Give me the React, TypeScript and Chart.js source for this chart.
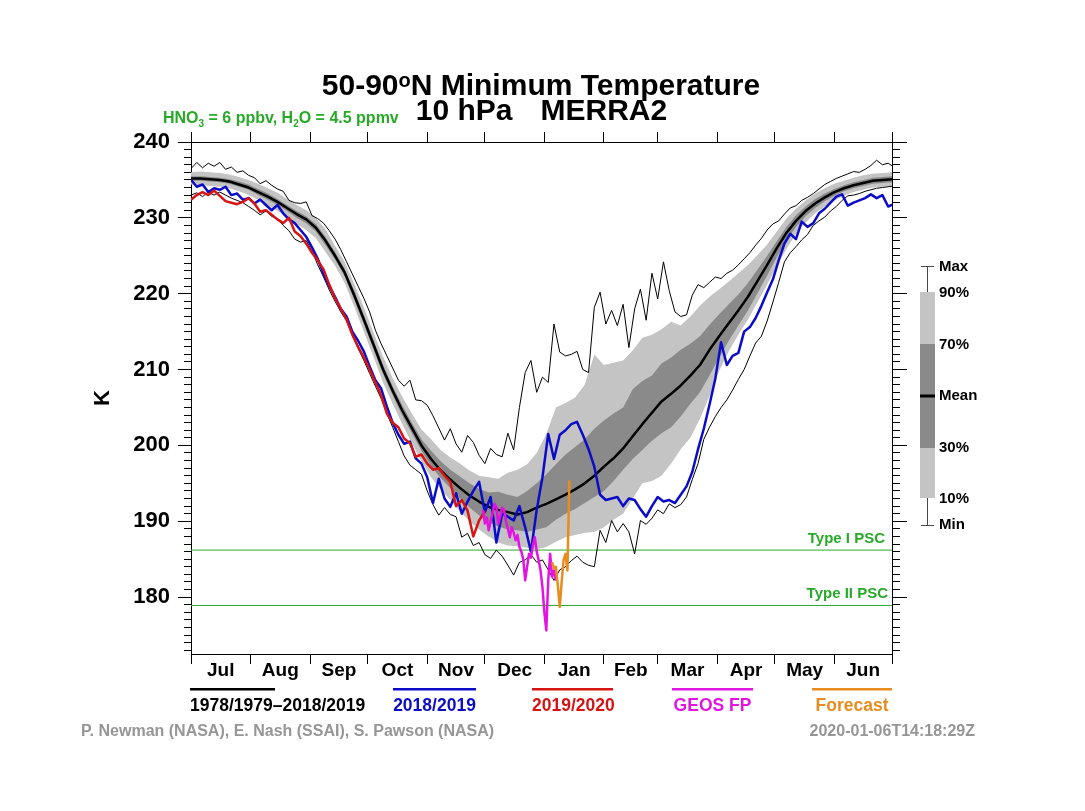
import React, { useEffect, useRef } from "react";
import { Chart, registerables } from "chart.js";

Chart.register(...registerables);

const FONT = "'Liberation Sans', Arial, Helvetica, sans-serif";
const W = 1085;
const H = 811;

// ---- axes / labels ----
const monthLabels = ["Jul", "Aug", "Sep", "Oct", "Nov", "Dec", "Jan", "Feb", "Mar", "Apr", "May", "Jun"];
const monthStarts = [0, 31, 62, 92, 123, 153, 184, 215, 243, 274, 304, 335, 365];
const yMajorTicks = [180, 190, 200, 210, 220, 230, 240];
const Y_MIN = 172.5;
const Y_MAX = 240;
const typeIPSC = 186.2;
const typeIIPSC = 178.9;

// ---- climatology 1978/1979-2018/2019, every 5 days from 1 Jul ----
const BAND_STEP = 5;
const meanVals = [
  235.2, 235.2, 235.1, 235.0, 234.8, 234.4, 234.0, 233.4, 232.8, 232.1,
  231.3, 230.5, 229.8, 228.7, 227.0, 225.0, 222.8, 219.8, 216.6, 213.3,
  210.0, 207.2, 204.6, 202.3, 200.0, 198.2, 196.7, 195.5, 194.4, 193.4,
  192.6, 191.9, 191.5, 191.2, 190.9, 191.2, 191.8, 192.3, 192.9, 193.5,
  194.2, 195.0, 196.0, 197.2, 198.3, 199.6, 201.2, 202.8, 204.3, 205.8,
  206.8, 207.9, 209.2, 210.6, 212.6, 214.4, 216.1, 217.8, 219.6, 221.7,
  223.8, 226.0, 228.0, 229.6, 230.9, 231.9, 232.7, 233.4, 233.9, 234.3,
  234.6, 234.9, 235.0, 235.1,
];
const p90Vals = [
  236.0, 236.1, 236.0, 235.9, 235.7, 235.4, 235.0, 234.5, 233.9, 233.3,
  232.5, 231.7, 231.0, 230.0, 228.5, 226.3, 224.2, 221.3, 218.2, 214.9,
  211.7, 208.9, 206.4, 204.2, 202.1, 200.8, 199.4, 198.4, 197.6, 196.7,
  196.0, 195.8, 195.6, 196.4, 196.8, 197.5, 199.0, 201.5, 205.0, 205.6,
  206.3, 208.0, 212.0, 210.6, 210.9, 211.2, 212.5, 214.2, 214.6, 215.3,
  216.3, 215.8, 217.0, 218.4, 219.6, 220.6, 221.6, 222.7, 223.8, 225.1,
  226.5, 228.2, 229.9, 231.2, 232.3, 233.2, 233.9, 234.5, 234.9, 235.3,
  235.6, 235.8, 235.9, 236.0,
];
const p70Vals = [
  235.5, 235.5, 235.4, 235.3, 235.1, 234.8, 234.4, 233.8, 233.2, 232.5,
  231.7, 230.9, 230.2, 229.2, 227.5, 225.5, 223.3, 220.4, 217.2, 213.9,
  210.6, 207.8, 205.3, 203.0, 200.8, 199.3, 197.9, 196.8, 195.9, 195.0,
  194.3, 193.8, 193.9, 193.5, 193.2, 194.0, 195.0, 196.2, 197.5, 198.8,
  199.8, 200.8, 202.2, 203.3, 204.2, 205.0, 207.4, 208.5, 209.2, 210.8,
  211.6, 212.6, 213.4, 214.4, 215.9, 217.3, 218.6, 219.9, 221.4, 223.2,
  225.0, 226.9, 228.8, 230.3, 231.5, 232.5, 233.2, 233.8, 234.3, 234.7,
  235.0, 235.3, 235.4, 235.5,
];
const p30Vals = [
  234.9, 234.9, 234.8, 234.7, 234.5, 234.1, 233.7, 233.0, 232.4, 231.7,
  230.9, 230.0, 229.3, 228.2, 226.4, 224.5, 222.3, 219.2, 216.0, 212.7,
  209.4, 206.6, 203.9, 201.6, 199.3, 197.3, 195.7, 194.4, 193.0, 191.8,
  190.8, 189.9, 189.3, 188.9, 188.8, 188.6, 188.9, 189.2, 190.2, 191.0,
  191.6, 192.4, 193.2, 194.0, 195.3, 196.8, 198.2, 199.4, 200.6, 201.6,
  202.4, 203.8, 205.5, 207.0, 209.2, 211.6, 213.8, 215.8, 217.8, 220.1,
  222.4, 224.8, 227.0, 228.8, 230.2, 231.3, 232.2, 232.9, 233.5, 233.9,
  234.2, 234.5, 234.6, 234.7,
];
const p10Vals = [
  234.4, 234.3, 234.2, 234.1, 233.9, 233.5, 233.0, 232.4, 231.7, 230.9,
  230.1, 229.2, 228.4, 227.3, 225.5, 223.7, 221.4, 218.3, 215.0, 211.7,
  208.3, 205.5, 202.8, 200.3, 197.9, 195.8, 194.2, 192.8, 191.3, 190.0,
  188.9, 188.0, 187.2, 186.8, 186.7, 186.5, 186.3, 186.6, 187.3, 187.9,
  188.2, 188.5, 188.6, 189.2, 190.2, 191.0, 193.0, 195.0, 195.3, 196.0,
  197.6, 199.5, 201.0, 203.5, 206.5, 209.8, 212.4, 214.6, 216.6, 218.9,
  221.2, 223.6, 225.9, 227.9, 229.4, 230.6, 231.5, 232.3, 232.9, 233.4,
  233.7, 234.0, 234.1, 234.2,
];

// ---- daily-ish lines, every 3 days from 1 Jul ----
const LINE_STEP = 3;
const maxVals = [
  236.5, 237.3, 236.6, 237.2, 236.8, 237.3, 236.4, 236.7, 236.0, 236.2,
  235.6, 235.3, 234.5, 234.9, 234.3, 233.8, 233.5, 232.3, 232.0, 231.9,
  232.1, 230.3, 229.9, 229.3, 228.3, 227.2, 225.8, 224.2, 222.6, 221.0,
  219.4, 217.6, 215.2, 213.4, 211.8, 210.2, 208.6, 207.8, 208.6, 206.0,
  205.9, 205.3, 203.9, 202.3, 200.7, 202.2, 200.2, 199.1, 201.3, 200.4,
  198.7, 197.6, 199.6, 198.8, 198.5, 201.6, 199.4, 205.0, 209.6, 211.2,
  207.0, 209.0, 208.3, 216.0, 212.3, 211.8, 212.0, 212.4, 210.0, 209.6,
  218.2, 220.2, 216.0, 217.8, 215.8, 218.6, 212.9, 218.0, 220.6, 216.5,
  222.7, 219.3, 224.2, 220.4, 217.6, 217.0, 217.2, 219.8, 221.2, 220.8,
  221.5, 222.2, 222.0, 222.7, 223.1, 223.8, 224.6, 225.4, 226.4, 227.3,
  228.4, 229.2, 229.6, 230.5, 231.3, 231.6, 232.3, 232.7, 233.2, 233.8,
  234.4, 234.8, 235.2, 235.5, 235.8, 236.1, 236.0, 236.4, 236.9, 237.6,
  237.0, 237.2, 236.7,
];
const minVals = [
  233.0, 233.3, 232.8, 233.4, 233.0, 233.4, 233.0, 232.6, 232.3, 232.0,
  231.5, 231.0, 230.4, 230.9, 230.2, 229.9, 229.0, 228.3, 227.2, 226.8,
  227.0, 225.6, 223.8, 222.2, 220.5, 219.0, 217.6, 216.4, 214.5, 212.8,
  211.2, 209.5, 207.8, 206.2, 204.2, 202.4, 200.5, 198.6, 197.4, 196.8,
  196.2, 194.0, 192.2, 190.8, 191.8, 190.9, 190.6, 187.9, 188.4, 186.8,
  187.2, 185.6, 185.1, 186.2, 185.4, 184.2, 182.9, 184.6, 184.9, 185.6,
  184.6, 184.9, 183.6, 182.2, 183.6, 184.0, 184.8, 185.4, 184.6, 184.2,
  184.0, 188.8, 187.2, 190.1, 188.6, 189.7, 188.6, 185.7, 190.1, 189.6,
  190.4, 191.5, 191.0, 192.3, 191.8, 192.2, 193.2, 195.5, 197.6, 200.8,
  202.4, 203.8, 205.0, 206.0, 207.3, 208.7, 210.0, 211.8, 213.5, 214.4,
  216.4, 218.9, 221.5, 224.2, 225.4, 226.2, 227.1, 227.8, 229.0, 229.6,
  230.1, 230.9, 231.5, 232.3, 232.9, 233.0, 233.2, 233.5, 233.7, 233.9,
  234.0, 234.1, 234.2,
];
const blue1819Vals = [
  235.0, 234.1, 234.4, 233.4, 233.9, 233.7, 234.1, 233.0, 233.2, 232.4,
  232.6, 231.9, 232.4, 231.7, 231.0, 231.7, 230.6, 229.8, 229.3, 228.4,
  227.5, 226.1, 224.6, 222.6, 221.0, 219.6, 218.0, 217.0, 215.0, 213.8,
  212.4, 210.4, 208.6, 207.5, 205.1, 203.0, 201.4, 200.2, 200.5, 198.3,
  197.6, 195.8, 192.4, 195.6, 193.0, 191.9, 193.7, 191.0, 192.6, 194.0,
  195.2, 191.2, 193.2, 187.2, 191.0, 190.6, 190.1, 192.0, 189.2, 186.0,
  191.5, 195.8, 201.5, 198.2, 201.4, 202.0, 202.8, 203.1, 201.4, 199.5,
  197.2, 193.5, 192.8, 193.0, 193.2, 192.0, 193.0, 192.8, 191.6, 190.6,
  192.0, 193.2, 192.6, 192.8, 192.4, 193.5, 194.6, 196.5, 199.5, 202.2,
  205.4, 208.8, 213.6, 210.6, 211.8, 212.2, 215.0, 215.6, 216.8, 218.4,
  220.2, 221.9, 224.4, 226.6, 227.9, 227.2, 229.5, 228.8, 229.3, 230.6,
  231.2, 232.0, 232.8, 233.1, 231.6, 232.0, 232.3, 232.6, 233.1, 232.6,
  233.0, 231.5, 231.8,
];
const red1920Vals = [
  232.4, 233.0, 233.4, 233.0, 233.6, 232.9, 232.2, 232.0, 231.8, 232.1,
  232.6, 231.9, 230.8, 231.0, 230.4, 229.8, 229.3, 230.0, 228.2, 227.6,
  226.6, 225.4, 224.4, 223.2, 221.2, 219.4, 218.0, 216.6, 214.6, 213.0,
  211.6, 210.0, 208.3, 206.6, 204.2, 203.0, 202.4, 200.9, 200.3, 198.5,
  198.8, 197.6, 196.8, 197.0, 196.0, 195.2, 192.0, 192.8, 191.4, 188.0,
  190.1, 191.3,
];

// ---- GEOS FP (daily, from day 152) and forecast (daily, from day 188) ----
const GEOS_START = 152;
const geosVals = [
  191.5, 189.7, 190.5, 188.8, 190.0, 191.0, 192.3, 191.9, 189.6, 190.6,
  191.8, 191.5, 190.0, 189.0, 187.9, 189.2, 188.5, 187.5, 188.2, 186.6,
  186.0, 185.0, 182.2, 184.0, 185.7, 185.2, 186.8, 187.9, 186.0, 184.9,
  183.5, 181.3, 178.0, 175.6, 182.2, 185.7, 182.7, 183.5, 182.2,
];
const FCST_START = 188;
const fcstVals = [184.6, 183.8, 184.0, 181.5, 178.7, 182.0, 184.9, 185.7, 183.5, 195.4];

// ---- colours ----
const LIGHT = "rgb(196,196,196)";
const DARK = "rgb(138,138,138)";
const BLUE = "rgb(12,12,200)";
const RED = "rgb(215,20,20)";
const MAGENTA = "rgb(225,20,225)";
const ORANGE = "rgb(232,140,30)";
const GREEN = "rgb(40,170,40)";
const GRAY = "rgb(150,150,150)";

function series(vals: number[], start: number, step: number) {
  return vals.map((v, i) => ({ x: start + i * step, y: v }));
}

function lineDs(label: string, data: any[], color: string, width: number, order: number, extra: any = {}) {
  return {
    label,
    data,
    borderColor: color,
    backgroundColor: color,
    borderWidth: width,
    pointRadius: 0,
    tension: 0,
    fill: false,
    order,
    ...extra,
  };
}

function drawRich(ctx: CanvasRenderingContext2D, x: number, y: number, parts: { t: string; f: string; dy: number }[]) {
  for (const p of parts) {
    ctx.font = p.f;
    ctx.fillText(p.t, x, y + p.dy);
    x += ctx.measureText(p.t).width;
  }
  return x;
}

const decorPlugin = {
  id: "decor",
  afterDraw(chart: any) {
    const ctx: CanvasRenderingContext2D = chart.ctx;
    const ys = chart.scales.y;
    const area = chart.chartArea;
    ctx.save();
    ctx.textBaseline = "alphabetic";
    ctx.textAlign = "left";

    // title line 1
    ctx.fillStyle = "#000";
    const big = `bold 30px ${FONT}`;
    const sup = `bold 20px ${FONT}`;
    const t1 = "50-90";
    const t3 = "N Minimum Temperature";
    ctx.font = big;
    const w1 = ctx.measureText(t1).width;
    const w3 = ctx.measureText(t3).width;
    ctx.font = sup;
    const w2 = ctx.measureText("o").width + 1;
    const cx = (area.left + area.right) / 2;
    drawRich(ctx, cx - (w1 + w2 + w3) / 2, 95, [
      { t: t1, f: big, dy: 0 },
      { t: "o", f: sup, dy: -8 },
      { t: t3, f: big, dy: 0 },
    ]);
    // title line 2
    ctx.font = big;
    const a = "10 hPa";
    const b = "MERRA2";
    const gap = 28;
    const wa = ctx.measureText(a).width;
    const wb = ctx.measureText(b).width;
    const x2 = cx - (wa + gap + wb) / 2;
    ctx.fillText(a, x2, 120);
    ctx.fillText(b, x2 + wa + gap, 120);

    // HNO3 / H2O note
    ctx.fillStyle = GREEN;
    const g = `bold 16px ${FONT}`;
    const gs = `bold 10px ${FONT}`;
    drawRich(ctx, 163, 123, [
      { t: "HNO", f: g, dy: 0 },
      { t: "3", f: gs, dy: 4 },
      { t: " = 6 ppbv, H", f: g, dy: 0 },
      { t: "2", f: gs, dy: 4 },
      { t: "O = 4.5 ppmv", f: g, dy: 0 },
    ]);

    // PSC labels
    ctx.font = `bold 15px ${FONT}`;
    ctx.textAlign = "right";
    ctx.fillText("Type I PSC", area.right - 7, ys.getPixelForValue(typeIPSC) - 7);
    ctx.fillText("Type II PSC", area.right - 4, ys.getPixelForValue(typeIIPSC) - 7);

    // bottom legend
    const legend = [
      { x: 190, w: 85, c: "#000", t: "1978/1979\u20132018/2019" },
      { x: 393, w: 83, c: BLUE, t: "2018/2019" },
      { x: 532, w: 81, c: RED, t: "2019/2020" },
      { x: 672, w: 81, c: MAGENTA, t: "GEOS FP" },
      { x: 812, w: 80, c: ORANGE, t: "Forecast" },
    ];
    ctx.textAlign = "left";
    ctx.font = `bold 17.5px ${FONT}`;
    for (const l of legend) {
      ctx.fillStyle = l.c;
      ctx.fillRect(l.x, 688, l.w, 2.5);
      const tw = ctx.measureText(l.t).width;
      const tx = tw > l.w ? l.x : l.x + (l.w - tw) / 2;
      ctx.fillText(l.t, tx, 711);
    }

    // credits
    ctx.fillStyle = GRAY;
    ctx.font = `bold 16px ${FONT}`;
    ctx.fillText("P. Newman (NASA), E. Nash (SSAI), S. Pawson (NASA)", 81, 736);
    ctx.textAlign = "right";
    ctx.fillText("2020-01-06T14:18:29Z", 975, 736);

    // right-hand percentile key
    ctx.fillStyle = LIGHT;
    ctx.fillRect(920, 292, 15, 206);
    ctx.fillStyle = DARK;
    ctx.fillRect(920, 344, 15, 104);
    ctx.fillStyle = "#000";
    ctx.fillRect(920, 394.5, 15, 3);
    ctx.strokeStyle = "rgb(70,70,70)";
    ctx.lineWidth = 1;
    ctx.beginPath();
    ctx.moveTo(927.5, 266);
    ctx.lineTo(927.5, 292);
    ctx.moveTo(927.5, 498);
    ctx.lineTo(927.5, 525);
    ctx.moveTo(921, 266.5);
    ctx.lineTo(934, 266.5);
    ctx.moveTo(921, 525.5);
    ctx.lineTo(934, 525.5);
    ctx.stroke();
    ctx.fillStyle = "#000";
    ctx.textAlign = "left";
    ctx.textBaseline = "middle";
    ctx.font = `bold 15px ${FONT}`;
    const keys: [string, number][] = [
      ["Max", 267], ["90%", 293], ["70%", 345], ["Mean", 396], ["30%", 448], ["10%", 499], ["Min", 525],
    ];
    for (const [t, y] of keys) ctx.fillText(t, 939, y);
    ctx.restore();
  },
};

function monthTicks(scale: any) {
  scale.ticks = monthStarts.map((v) => ({ value: v }));
}
function midMonthTicks(scale: any) {
  scale.ticks = monthLabels.map((_, i) => ({ value: (monthStarts[i] + monthStarts[i + 1]) / 2 }));
}
function majorYTicks(scale: any) {
  scale.ticks = yMajorTicks.map((v) => ({ value: v }));
}
function minorYTicks(scale: any) {
  const t: { value: number }[] = [];
  for (let v = Math.ceil(Y_MIN); v <= Y_MAX; v++) t.push({ value: v });
  scale.ticks = t;
}

const tickGrid = (len: number) => ({
  display: true,
  drawOnChartArea: false,
  drawTicks: true,
  tickLength: len,
  color: "#000",
  tickColor: "#000",
  tickWidth: 1,
});
const frame = { display: true, color: "#000", width: 1 };

export default function App() {
  const ref = useRef<HTMLCanvasElement | null>(null);

  useEffect(() => {
    if (!ref.current) return;
    Chart.defaults.font.family = FONT;
    Chart.defaults.color = "#000";

    const datasets: any[] = [
      lineDs("Forecast", series(fcstVals, FCST_START, 1), ORANGE, 2.5, 1),
      lineDs("GEOS FP", series(geosVals, GEOS_START, 1), MAGENTA, 2.5, 2),
      lineDs("2019/2020", series(red1920Vals, 0, LINE_STEP), RED, 2.5, 3),
      lineDs("2018/2019", series(blue1819Vals, 0, LINE_STEP), BLUE, 2.5, 4),
      lineDs("Mean", series(meanVals, 0, BAND_STEP), "#000", 2.5, 5),
      lineDs("Max", series(maxVals, 0, LINE_STEP), "#000", 1, 6),
      lineDs("Min", series(minVals, 0, LINE_STEP), "#000", 1, 7),
      lineDs("Type I PSC", [{ x: 0, y: typeIPSC }, { x: 365, y: typeIPSC }], GREEN, 1, 8),
      lineDs("Type II PSC", [{ x: 0, y: typeIIPSC }, { x: 365, y: typeIIPSC }], GREEN, 1, 9),
      lineDs("70%", series(p70Vals, 0, BAND_STEP), DARK, 0, 10, { fill: "+1", backgroundColor: DARK }),
      lineDs("30%", series(p30Vals, 0, BAND_STEP), DARK, 0, 11),
      lineDs("90%", series(p90Vals, 0, BAND_STEP), LIGHT, 0, 12, { fill: "+1", backgroundColor: LIGHT }),
      lineDs("10%", series(p10Vals, 0, BAND_STEP), LIGHT, 0, 13),
    ];

    const chart = new Chart(ref.current, {
      type: "line",
      data: { datasets },
      plugins: [decorPlugin],
      options: {
        animation: false,
        responsive: false,
        devicePixelRatio: 1,
        layout: { padding: 0 },
        plugins: { legend: { display: false }, title: { display: false }, tooltip: { enabled: false } },
        elements: { line: { borderJoinStyle: "round" } },
        scales: {
          x: {
            type: "linear",
            position: "bottom",
            min: 0,
            max: 365,
            weight: 0,
            afterBuildTicks: monthTicks,
            afterFit: (s: any) => { s.height = 0; },
            ticks: { display: false },
            grid: tickGrid(10),
            border: frame,
          },
          xLabels: {
            type: "linear",
            position: "bottom",
            min: 0,
            max: 365,
            weight: 1,
            afterBuildTicks: midMonthTicks,
            afterFit: (s: any) => { s.height = H - 654; },
            ticks: {
              autoSkip: false,
              maxRotation: 0,
              padding: 5,
              color: "#000",
              font: { size: 19, weight: "bold", family: FONT },
              callback: (_v: any, i: number) => monthLabels[i],
            },
            grid: { display: false, drawTicks: false },
            border: { display: false },
          },
          xTop: {
            type: "linear",
            position: "top",
            min: 0,
            max: 365,
            afterBuildTicks: monthTicks,
            afterFit: (s: any) => { s.height = 142; },
            ticks: { display: false },
            grid: tickGrid(10),
            border: frame,
          },
          y: {
            type: "linear",
            position: "left",
            min: Y_MIN,
            max: Y_MAX,
            weight: 1,
            afterBuildTicks: majorYTicks,
            afterFit: (s: any) => { s.width = 191; },
            ticks: {
              padding: 8,
              color: "#000",
              font: { size: 22, weight: "bold", family: FONT },
              callback: (v: any) => String(v),
            },
            grid: tickGrid(13),
            border: frame,
            title: {
              display: true,
              text: "K",
              color: "#000",
              font: { size: 22, weight: "bold", family: FONT },
              padding: { top: 90, bottom: 0 },
            },
          },
          yMinor: {
            type: "linear",
            position: "left",
            min: Y_MIN,
            max: Y_MAX,
            weight: 0,
            afterBuildTicks: minorYTicks,
            afterFit: (s: any) => { s.width = 0; },
            ticks: { display: false },
            grid: tickGrid(7),
            border: frame,
          },
          yR: {
            type: "linear",
            position: "right",
            min: Y_MIN,
            max: Y_MAX,
            weight: 1,
            afterBuildTicks: majorYTicks,
            afterFit: (s: any) => { s.width = W - 892; },
            ticks: { display: false },
            grid: tickGrid(15),
            border: frame,
          },
          yRMinor: {
            type: "linear",
            position: "right",
            min: Y_MIN,
            max: Y_MAX,
            weight: 0,
            afterBuildTicks: minorYTicks,
            afterFit: (s: any) => { s.width = 0; },
            ticks: { display: false },
            grid: tickGrid(8),
            border: frame,
          },
        },
      } as any,
    });
    return () => chart.destroy();
  }, []);

  return (
    <div style={{ position: "absolute", left: 0, top: 0, width: W, height: H, background: "#fff" }}>
      <canvas ref={ref} width={W} height={H} style={{ display: "block" }} />
    </div>
  );
}
